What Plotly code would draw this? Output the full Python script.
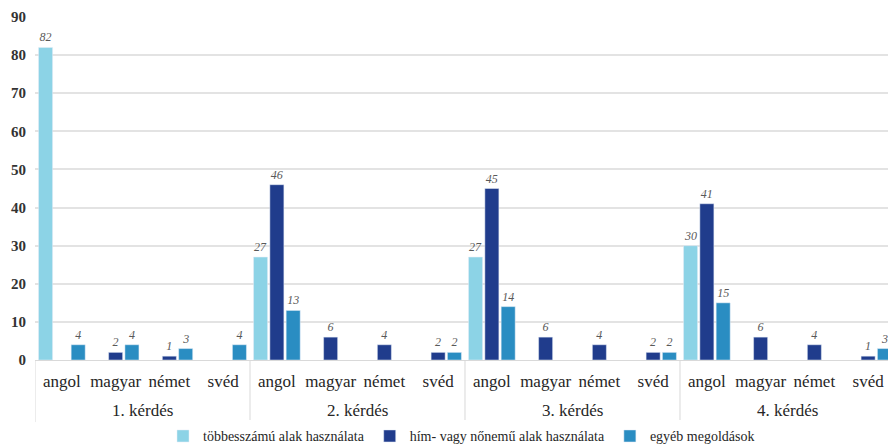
import plotly.graph_objects as go

groups = ["1. kérdés", "2. kérdés", "3. kérdés", "4. kérdés"]
langs = ["angol", "magyar", "német", "svéd"]
series_names = ["többesszámú alak használata", "hím- vagy nőnemű alak használata", "egyéb megoldások"]

tobbes = [82, None, None, None, 27, None, None, None, 27, None, None, None, 30, None, None, None]
himno = [None, 2, 1, None, 46, 6, 4, 2, 45, 6, 4, 2, 41, 6, 4, 1]
egyeb = [4, 4, 3, 4, 13, None, None, 2, 14, None, None, 2, 15, None, None, 3]

y_ticks = [0, 10, 20, 30, 40, 50, 60, 70, 80, 90]

colors = ["#8CD3E6", "#203C8C", "#2A8DC2"]
SERIF = "Liberation Serif"
GRID = "#D9D9D9"

n_l = len(langs)
xpos = list(range(len(groups) * n_l))
xtext = [l for _ in groups for l in langs]

fig = go.Figure()
for name, vals, col in zip(series_names, [tobbes, himno, egyeb], colors):
    fig.add_trace(go.Bar(
        x=xpos, y=vals, name=name, marker_color=col,
        text=[("" if v is None else str(v)) for v in vals],
        textposition="outside",
        textfont=dict(family=SERIF, size=12, color="#595959", style="italic"),
        cliponaxis=False,
    ))

# group labels and dividers of the two-level category axis
for gi, g in enumerate(groups):
    fig.add_annotation(x=gi * n_l + (n_l - 1) / 2, xref="x", y=-0.146, yref="paper",
                       text=g, showarrow=False, yanchor="middle",
                       font=dict(size=17, family=SERIF, color="#262626"))
for gi in range(len(groups) + 1):
    fig.add_shape(type="line", x0=gi * n_l - 0.5, x1=gi * n_l - 0.5, xref="x",
                  y0=0, y1=-0.181, yref="paper", line=dict(color=GRID, width=1))

fig.update_layout(
    width=888, height=445,
    margin=dict(l=35, r=0, t=17, b=85, autoexpand=False),
    barmode="group", bargap=0.09, bargroupgap=0.14,
    plot_bgcolor="white", paper_bgcolor="white",
    font=dict(family=SERIF, color="#262626"),
    legend=dict(orientation="h", x=0.5, xanchor="center", y=-0.176, yanchor="top",
                font=dict(size=14, family=SERIF, color="#262626"),
                itemwidth=30, tracegroupgap=0),
    xaxis=dict(range=[-0.5, 15.37], tickvals=xpos, ticktext=xtext, showgrid=False,
               zeroline=False, showline=True, linecolor=GRID, linewidth=1,
               tickfont=dict(size=17, family=SERIF, color="#262626"), tickangle=0,
               ticks="", ticklabelstandoff=6, automargin=False),
    yaxis=dict(range=[0, 90], tickvals=y_ticks, showgrid=True, gridcolor="#E3E3E3",
               gridwidth=1.5, zeroline=False, showline=False, automargin=False,
               ticklabelstandoff=8,
               tickfont=dict(size=15, family=SERIF, color="#333333", weight="bold")),
)

fig.write_html("out.html")
